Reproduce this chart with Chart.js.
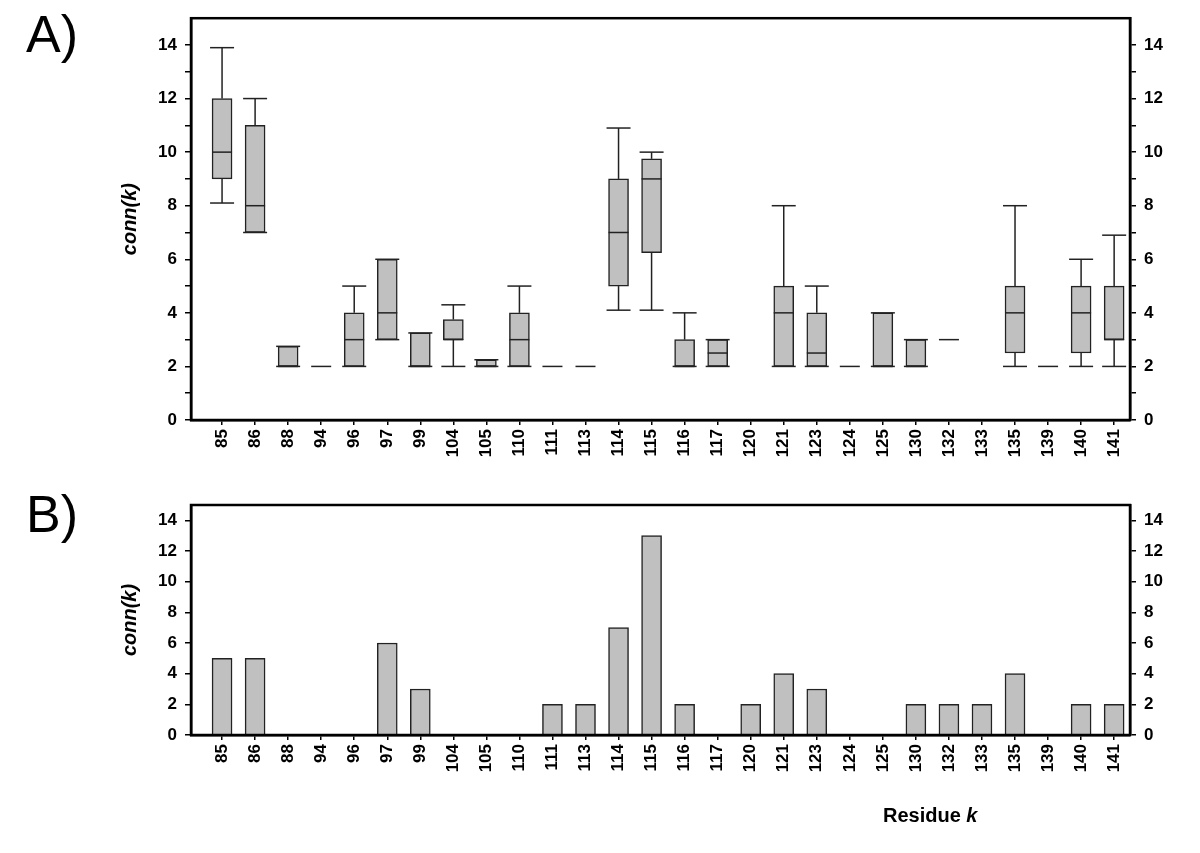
<!DOCTYPE html>
<html>
<head>
<meta charset="utf-8">
<script src="https://cdn.jsdelivr.net/npm/chart.js@4.4.0/dist/chart.umd.min.js"></script>
<style>
  body { margin: 0; background: #fff; font-family: "Liberation Sans", Arial, sans-serif; }
  #wrap { position: relative; width: 1200px; height: 853px; }
  .panel { position: absolute; left: 0; }
  .tag { position: absolute; font-size: 52px; line-height: 52px; color: #000; }
  #xtitle { position: absolute; left: 883px; top: 805px; font-size: 20px; line-height: 20px; font-weight: bold; }
</style>
</head>
<body>
<div id="wrap">
  <canvas id="chartA" class="panel" width="1200" height="480" style="top:0"></canvas>
  <canvas id="chartB" class="panel" width="1200" height="373" style="top:480px"></canvas>
  <div class="tag" style="left:26px;top:8px">A)</div>
  <div class="tag" style="left:26px;top:488px">B)</div>
  <div id="xtitle">Residue <i>k</i></div>
</div>
<script>
// residues on the x axis
const residues = ['85', '86', '88', '94', '96', '97', '99', '104', '105', '110', '111', '113', '114', '115',
    '116', '117', '120', '121', '123', '124', '125', '130', '132', '133', '135', '139', '140', '141'];

// panel A: box plot of conn(k)
const boxMin    = [8.1, 7, 2, 2, 2, 3, 2, 2, 2, 2, 2, 2, 4.1, 4.1, 2, 2, null, 2, 2, 2, 2, 2, 3, null, 2, 2, 2, 2];
const boxQ1     = [9, 7, 2, 2, 2, 3, 2, 3, 2, 2, 2, 2, 5, 6.25, 2, 2, null, 2, 2, 2, 2, 2, 3, null, 2.5, 2, 2.5, 3];
const boxMedian = [10, 8, 2, 2, 3, 4, 2, 3, 2, 3, 2, 2, 7, 9, 2, 2.5, null, 4, 2.5, 2, 2, 2, 3, null, 4, 2, 4, 3];
const boxQ3     = [12, 11, 2.75, 2, 4, 6, 3.25, 3.75, 2.25, 4, 2, 2, 9, 9.75, 3, 3, null, 5, 4, 2, 4, 3, 3, null, 5, 2, 5, 5];
const boxMax    = [13.9, 12, 2.75, 2, 5, 6, 3.25, 4.3, 2.25, 5, 2, 2, 10.9, 10, 4, 3, null, 8, 5, 2, 4, 3, 3, null, 8, 2, 6, 6.9];

// panel B: single conn(k) values
const connValues = [5, 5, 0, 0, 0, 6, 3, 0, 0, 0, 2, 2, 7, 13, 2, 0, 2, 4, 3, 0, 0, 2, 2, 2, 4, 0, 2, 2];

// y tick values
const yTicksA = [0, 1, 2, 3, 4, 5, 6, 7, 8, 9, 10, 11, 12, 13, 14];
const yTicksB = [0, 2, 4, 6, 8, 10, 12, 14];

const FONT = "'Liberation Sans', Arial, sans-serif";
const FILL = '#c0c0c0';
const LINE = '#222';

// black frame round the plot area
const framePlugin = {
    id: 'frame',
    afterDraw(chart) {
        const a = chart.chartArea;
        const ctx = chart.ctx;
        ctx.save();
        ctx.strokeStyle = '#000';
        ctx.lineWidth = 2.5;
        ctx.strokeRect(a.left, a.top, a.right - a.left, a.bottom - a.top);
        ctx.restore();
    }
};

// whiskers, caps and median lines of the box plot
const whiskerPlugin = {
    id: 'whiskers',
    afterDatasetsDraw(chart) {
        const xs = chart.scales.x, ys = chart.scales.y;
        const ctx = chart.ctx;
        ctx.save();
        ctx.strokeStyle = LINE;
        ctx.lineWidth = 1.5;
        residues.forEach((r, i) => {
            if (boxMin[i] == null) return;
            const x = xs.getPixelForValue(i);
            const line = (x1, y1, x2, y2) => {
                ctx.beginPath();
                ctx.moveTo(x1, y1);
                ctx.lineTo(x2, y2);
                ctx.stroke();
            };
            const pMin = ys.getPixelForValue(boxMin[i]);
            const pQ1 = ys.getPixelForValue(boxQ1[i]);
            const pQ3 = ys.getPixelForValue(boxQ3[i]);
            const pMax = ys.getPixelForValue(boxMax[i]);
            const pMed = ys.getPixelForValue(boxMedian[i]);
            if (boxMax[i] === boxMin[i]) {
                line(x - 10, pMin, x + 10, pMin);
                return;
            }
            if (boxMax[i] > boxQ3[i]) line(x, pQ3, x, pMax);
            if (boxMin[i] < boxQ1[i]) line(x, pQ1, x, pMin);
            line(x - 12, pMax, x + 12, pMax);
            line(x - 12, pMin, x + 12, pMin);
            line(x - 10, pMed, x + 10, pMed);
        });
        ctx.restore();
    }
};

function yAxis(position, tickVals, labelEvery) {
    const ax = {
        type: 'linear',
        position: position,
        min: 0,
        max: 15,
        afterBuildTicks: s => { s.ticks = tickVals.map(v => ({ value: v })); },
        afterFit: s => { s.width = position === 'left' ? 77 : 70; },
        ticks: {
            color: '#000',
            padding: 8,
            font: { family: FONT, size: 17, weight: 'bold' },
            callback: v => (v % labelEvery === 0 ? v : '')
        },
        grid: { drawOnChartArea: false, drawTicks: true, tickLength: 6, color: '#000', lineWidth: 1.5 },
        border: { display: true, color: '#000', width: 2.5 }
    };
    if (position === 'left') {
        ax.title = {
            display: true,
            text: 'conn(k)',
            color: '#000',
            font: { family: FONT, size: 20, weight: 'bold', style: 'italic' },
            padding: { top: 4, bottom: 4 }
        };
    }
    return ax;
}

function xAxis(height) {
    return {
        type: 'linear',
        offset: false,
        min: -0.94,
        max: 27.48,
        afterBuildTicks: s => { s.ticks = residues.map((r, i) => ({ value: i })); },
        afterFit: s => { s.height = height; },
        ticks: {
            color: '#000',
            autoSkip: false,
            minRotation: 90,
            maxRotation: 90,
            padding: 4,
            font: { family: FONT, size: 17, weight: 'bold' },
            callback: v => residues[v]
        },
        grid: { offset: false, drawOnChartArea: false, drawTicks: true, tickLength: 5, color: '#000', lineWidth: 1.5 },
        border: { display: true, color: '#000', width: 2.5 }
    };
}

function baseOptions(tickVals, labelEvery, top, xHeight) {
    return {
        responsive: false,
        animation: false,
        devicePixelRatio: 1,
        layout: { padding: { left: 114, right: 0, top: top, bottom: 0 } },
        plugins: { legend: { display: false }, tooltip: { enabled: false } },
        scales: {
            x: xAxis(xHeight),
            y: yAxis('left', tickVals, labelEvery),
            y2: yAxis('right', tickVals, labelEvery)
        }
    };
}

// boxes: floating bars from Q1 to Q3
const boxData = [];
residues.forEach((r, i) => {
    if (boxQ1[i] != null && boxQ3[i] > boxQ1[i]) boxData.push({ x: i, y: [boxQ1[i], boxQ3[i]] });
});

new Chart(document.getElementById('chartA'), {
    type: 'bar',
    data: {
        datasets: [{
            data: boxData,
            backgroundColor: FILL,
            borderColor: LINE,
            borderWidth: 1.5,
            borderSkipped: false,
            barThickness: 20
        }]
    },
    options: baseOptions(yTicksA, 2, 17, 60),
    plugins: [whiskerPlugin, framePlugin]
});

new Chart(document.getElementById('chartB'), {
    type: 'bar',
    data: {
        datasets: [{
            data: residues.map((r, i) => ({ x: i, y: connValues[i] })),
            backgroundColor: FILL,
            borderColor: LINE,
            borderWidth: 1.5,
            barThickness: 20
        }]
    },
    options: baseOptions(yTicksB, 2, 25, 118),
    plugins: [framePlugin]
});
</script>
</body>
</html>
